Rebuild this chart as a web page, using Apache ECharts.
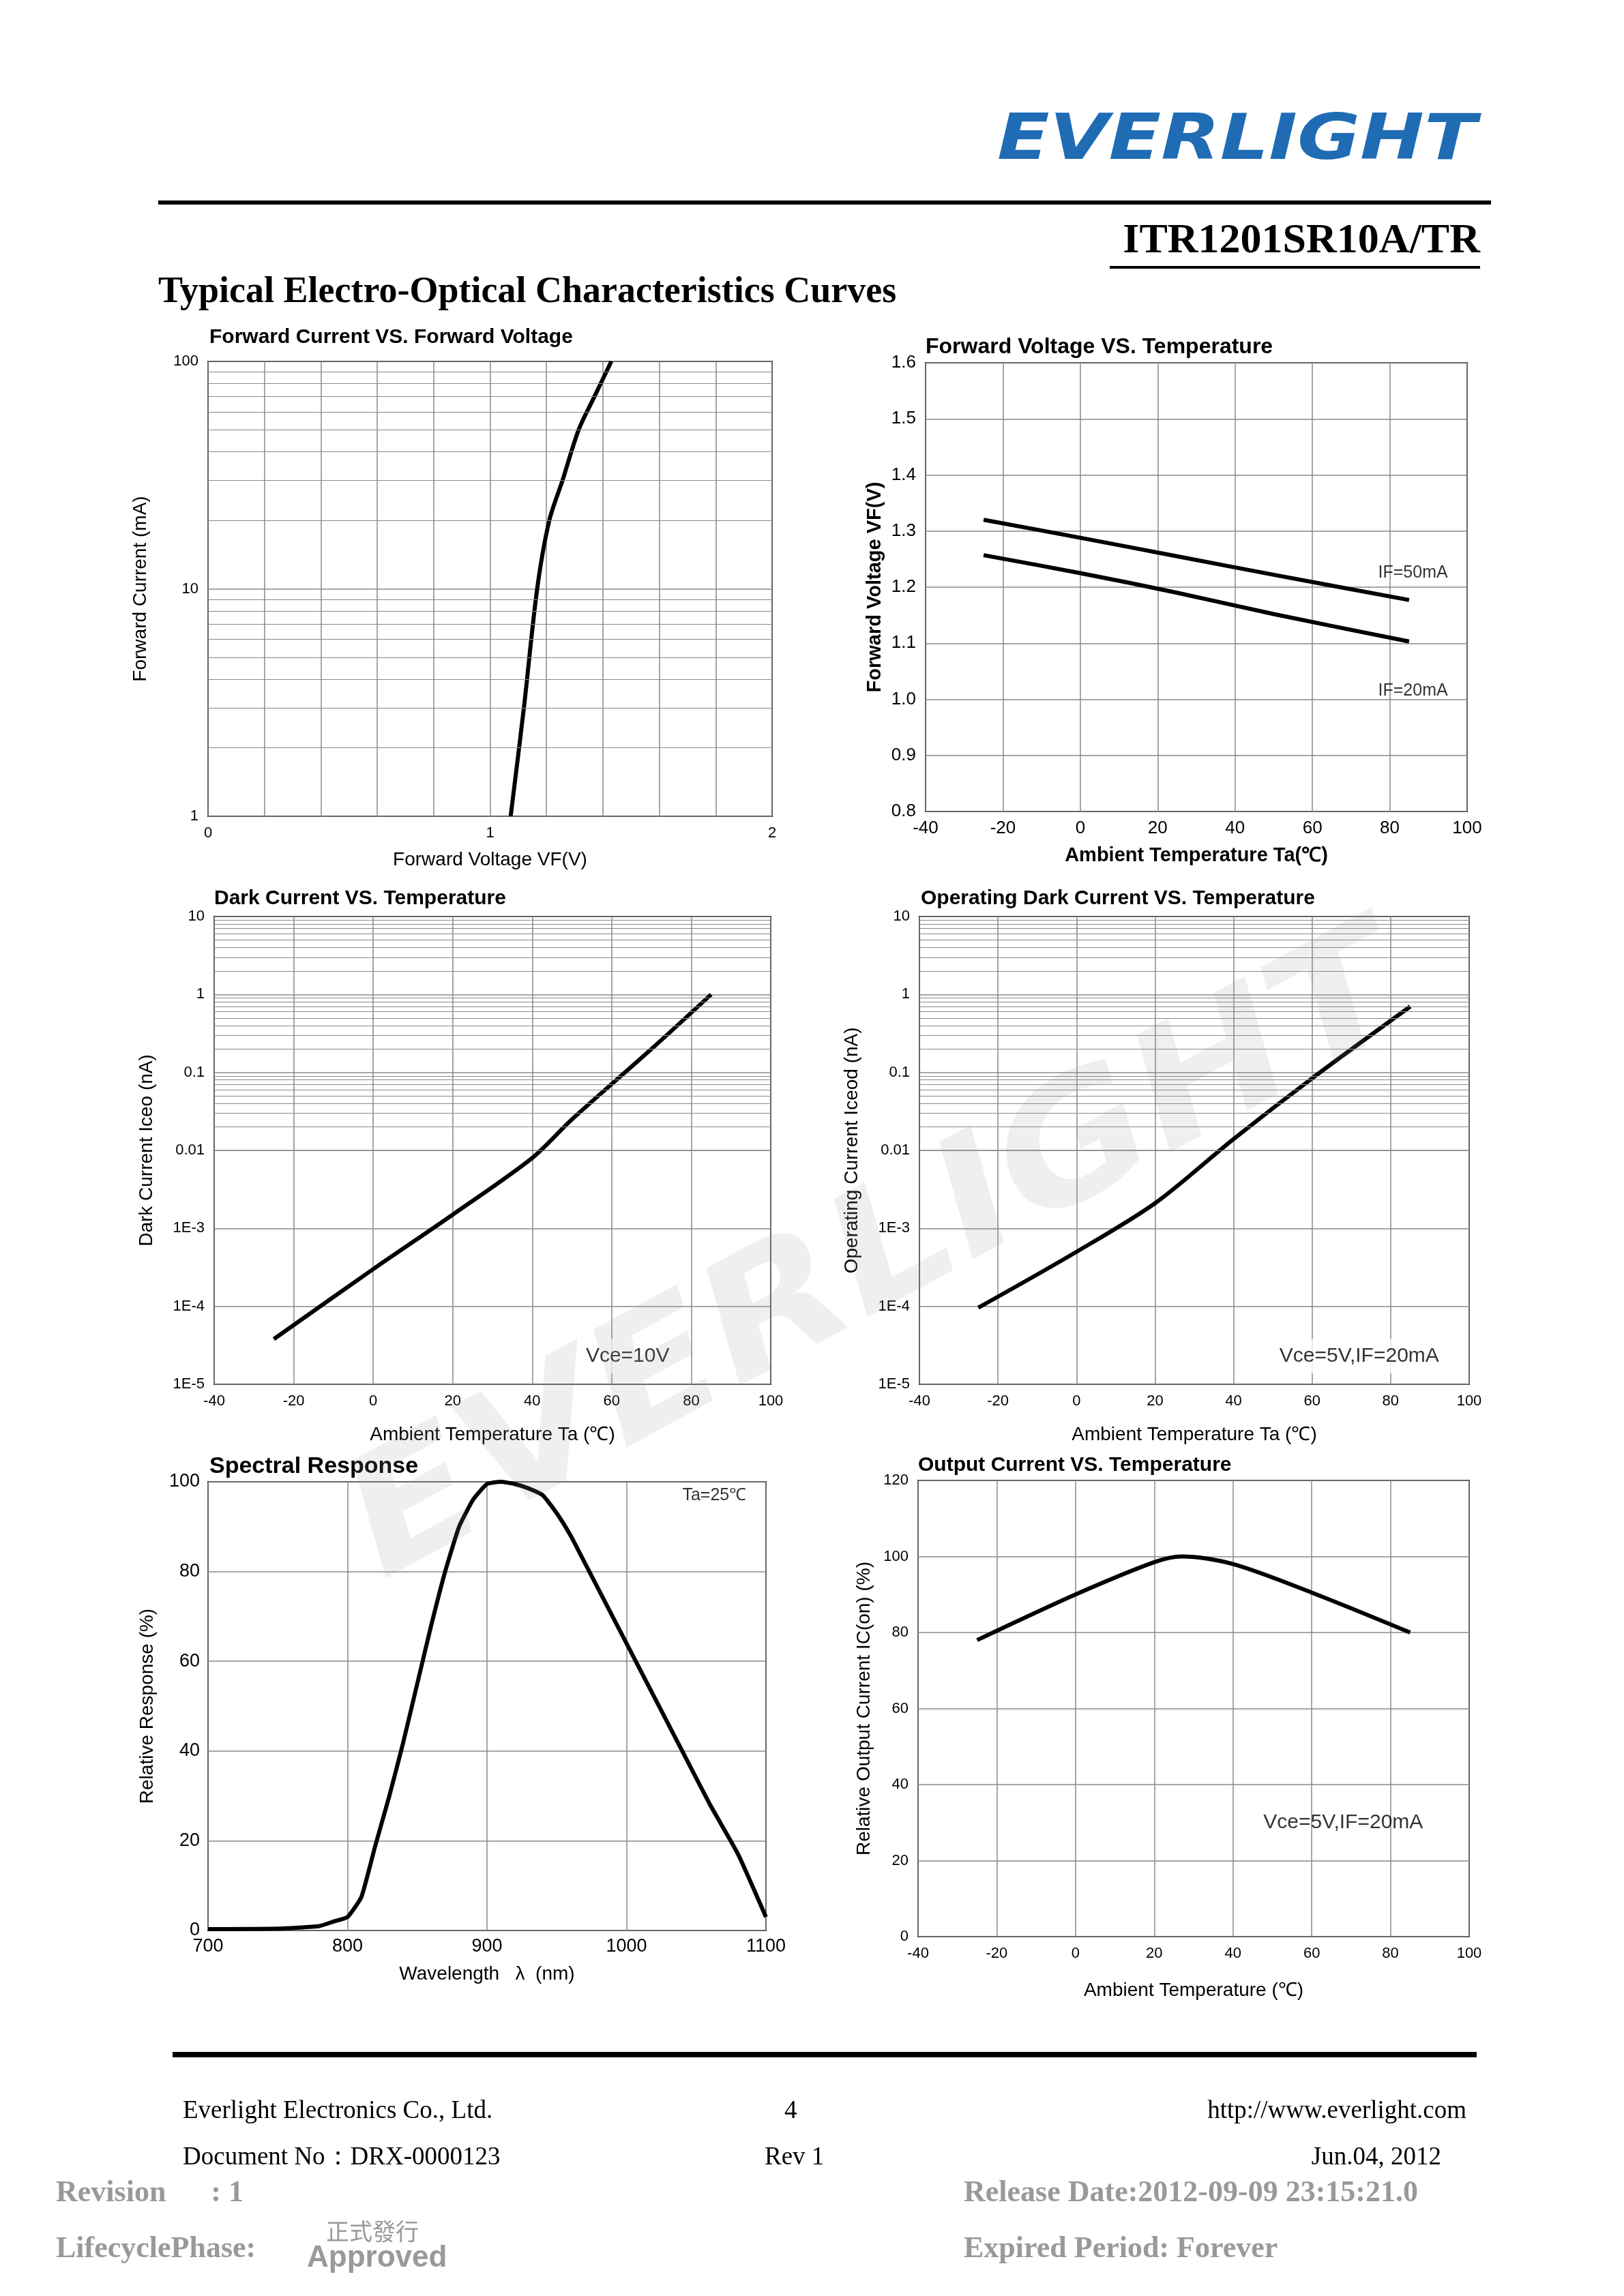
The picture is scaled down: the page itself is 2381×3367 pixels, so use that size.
<!DOCTYPE html>
<html><head><meta charset="utf-8">
<script src="https://cdn.jsdelivr.net/npm/echarts@6/dist/echarts.min.js"></script>
<style>html,body{margin:0;padding:0;background:#fff}#c{width:2381px;height:3367px}</style>
</head><body><div id="c"></div>
<script>
// ---- data ----
const fcFv = [[1.073,1],[1.12,3],[1.167,10],[1.21,20],[1.257,30],[1.314,50],[1.37,70],[1.43,100]];
const fvT50 = [[-25,1.32],[0,1.288],[25,1.255],[50,1.222],[85,1.177]];
const fvT20 = [[-25,1.257],[0,1.225],[25,1.19],[50,1.152],[85,1.103]];
const darkT = [[-25,3.8e-5],[0,3e-4],[20,1.5e-3],[40,8e-3],[50,0.025],[70,0.2],[85,1]];
const opDarkT = [[-25,9.6e-5],[0,5e-4],[20,2.1e-3],[40,0.014],[60,0.084],[85,0.7]];
const spectral = [[700,0.3],[750,0.4],[780,1],[790,2],[800,3],[810,7.5],[820,19],[830,30],[840,42],[850,55],[860,68],[870,80],[880,90],[890,96],[900,99.5],[910,100],[920,99.5],[930,98.5],[940,97],[950,93],[960,88],[970,82],[980,76],[1000,64],[1020,52],[1040,40],[1060,28],[1080,17],[1100,3]];
const outT = [[-25,78],[0,90],[20,98.5],[27,100],[40,98],[60,90.5],[85,80]];
const logLabels = {10:'10',1:'1',0.1:'0.1',0.01:'0.01',0.001:'1E-3',0.0001:'1E-4',0.00001:'1E-5'};

const F='Liberation Sans, Arial, sans-serif';
function minorLines(lo,hi){const a=[];for(let d=lo;d<hi;d++){for(let m=2;m<=9;m++)a.push({yAxis:m*Math.pow(10,d)});}return a;}

const grids=[
 {left:305,top:530,width:827,height:667},
 {left:1357,top:532,width:794,height:658},
 {left:314,top:1344,width:816,height:686},
 {left:1348,top:1344,width:806,height:686},
 {left:305,top:2173,width:818,height:658},
 {left:1346,top:2171,width:808,height:669}
].map(g=>Object.assign({show:true,borderColor:'#000',borderWidth:2,backgroundColor:'transparent'},g));

const gl={show:true,lineStyle:{color:'#888',width:1.5}};
const axl={show:false};
const lab={color:'#000',fontFamily:F,fontSize:22};
function xa(i,o){return Object.assign({gridIndex:i,type:'value',axisLine:axl,axisTick:{show:false},splitLine:gl,axisLabel:Object.assign({},lab,{margin:14}),nameLocation:'middle',nameTextStyle:{color:'#000',fontFamily:F,fontSize:28}},o);}
function ya(i,o){return Object.assign({gridIndex:i,axisLine:axl,axisTick:{show:false},splitLine:gl,axisLabel:Object.assign({},lab,{margin:14}),nameLocation:'middle',nameTextStyle:{color:'#000',fontFamily:F,fontSize:28}},o);}

const xAxis=[
 xa(0,{min:0,max:2,interval:0.2,name:'Forward Voltage VF(V)',nameGap:50,axisLabel:Object.assign({},lab,{margin:14,formatter:v=>Math.abs(v-Math.round(v))<1e-6?String(Math.round(v)):''})}),
 xa(1,{min:-40,max:100,interval:20,name:'Ambient Temperature Ta(℃)',nameGap:50,axisLabel:Object.assign({},lab,{fontSize:26,margin:12}),nameTextStyle:{color:'#000',fontFamily:F,fontSize:29,fontWeight:'bold'}}),
 xa(2,{min:-40,max:100,interval:20,name:'Ambient Temperature Ta (℃)',nameGap:60}),
 xa(3,{min:-40,max:100,interval:20,name:'Ambient Temperature Ta (℃)',nameGap:60}),
 xa(4,{min:700,max:1100,interval:100,name:'Wavelength   λ  (nm)',nameGap:50,axisLabel:Object.assign({},lab,{fontSize:27,margin:10,formatter:v=>String(v)})}),
 xa(5,{min:-40,max:100,interval:20,name:'Ambient Temperature (℃)',nameGap:65})
];
const yAxis=[
 ya(0,{type:'log',min:1,max:100,name:'Forward Current (mA)',nameGap:85}),
 ya(1,{type:'value',min:0.8,max:1.6,interval:0.1,name:'Forward Voltage VF(V)',nameGap:60,axisLabel:Object.assign({},lab,{fontSize:26,margin:14,formatter:v=>v.toFixed(1)}),nameTextStyle:{color:'#000',fontFamily:F,fontSize:29,fontWeight:'bold'}}),
 ya(2,{type:'log',min:1e-5,max:10,name:'Dark Current Iceo (nA)',nameGap:85,axisLabel:Object.assign({},lab,{margin:14,formatter:v=>logLabels[+v.toPrecision(3)]||''})}),
 ya(3,{type:'log',min:1e-5,max:10,name:'Operating Current Iceod (nA)',nameGap:85,axisLabel:Object.assign({},lab,{margin:14,formatter:v=>logLabels[+v.toPrecision(3)]||''})}),
 ya(4,{type:'value',min:0,max:100,interval:20,name:'Relative Response (%)',nameGap:75,axisLabel:Object.assign({},lab,{fontSize:27,margin:12})}),
 ya(5,{type:'value',min:0,max:120,interval:20,name:'Relative Output Current IC(on) (%)',nameGap:65})
];
function line(i,data,ml,sm){const s={type:'line',xAxisIndex:i,yAxisIndex:i,data:data,smooth:sm==null?0.3:sm,showSymbol:false,lineStyle:{color:'#000',width:6},silent:true};
 if(ml)s.markLine={silent:true,symbol:'none',label:{show:false},lineStyle:{color:'#888',width:1.2,type:'solid'},data:ml};return s;}
function note(i,x,y,t,fs,box){return {type:'scatter',xAxisIndex:i,yAxisIndex:i,data:[[x,y]],symbolSize:0,silent:true,z:5,label:{show:true,position:'inside',formatter:t,color:'#000',fontFamily:F,fontSize:fs,backgroundColor:box?'#fff':'transparent',padding:box?[10,16]:0}};}
const series=[
 line(0,fcFv,minorLines(0,2)),
 line(1,fvT50),line(1,fvT20),
 line(2,darkT,minorLines(-5,1)),
 line(3,opDarkT,minorLines(-5,1)),
 line(4,spectral,null,0.15),
 line(5,outT),
 note(1,86,1.225,'IF=50mA',25),note(1,86,1.015,'IF=20mA',25),
 note(2,64,2.3e-5,'Vce=10V',30,true),
 note(3,72,2.3e-5,'Vce=5V,IF=20mA',30,true),
 note(4,1063,97,'Ta=25℃',25),
 note(5,68,30,'Vce=5V,IF=20mA',30)
];
const serif='Liberation Serif, Times New Roman, serif';
function t(x,y,txt,st){return {type:'text',left:x,top:y,style:Object.assign({text:txt,fill:'#000',font:'37px '+serif},st)};}
const graphic=[
 {type:'text',x:1462,y:163,scaleX:1.22,style:{text:'EVERLIGHT',fill:'#1f6cb5',font:'italic bold 92px DejaVu Sans, sans-serif'}},
 {type:'rect',shape:{x:232,y:294,width:1954,height:6},style:{fill:'#000'}},
 {type:'text',right:211,top:323,style:{text:'ITR1201SR10A/TR',fill:'#000',font:'bold 62px '+serif}},
 {type:'rect',shape:{x:1627,y:390,width:543,height:4},style:{fill:'#000'}},
 t(232,402,'Typical Electro-Optical Characteristics Curves',{font:'bold 54px '+serif}),
 t(307,480,'Forward Current VS. Forward Voltage',{font:'bold 30px '+F}),
 t(1357,493,'Forward Voltage VS. Temperature',{font:'bold 32px '+F}),
 t(314,1303,'Dark Current VS. Temperature',{font:'bold 30px '+F}),
 t(1350,1303,'Operating Dark Current VS. Temperature',{font:'bold 30px '+F}),
 t(307,2134,'Spectral Response',{font:'bold 34px '+F}),
 t(1346,2134,'Output Current VS. Temperature',{font:'bold 30px '+F}),
 {type:'rect',shape:{x:253,y:3009,width:1912,height:8},style:{fill:'#000'}},
 t(268,3078,'Everlight Electronics Co., Ltd.'),
 t(1150,3078,'4'),
 {type:'text',right:231,top:3078,style:{text:'http://www.everlight.com',fill:'#000',font:'37px '+serif}},
 t(268,3146,'Document No：DRX-0000123'),
 t(1121,3146,'Rev 1'),
 {type:'text',right:268,top:3146,style:{text:'Jun.04, 2012',fill:'#000',font:'37px '+serif}},
 t(82,3195,'Revision      : 1',{fill:'#999',font:'bold 44px '+serif}),
 t(1413,3195,'Release Date:2012-09-09 23:15:21.0',{fill:'#999',font:'bold 44px '+serif}),
 t(82,3277,'LifecyclePhase:',{fill:'#999',font:'bold 44px '+serif}),
 t(1413,3277,'Expired Period: Forever',{fill:'#999',font:'bold 44px '+serif}),
 t(478,3255,'正式發行',{fill:'#999',font:'34px Noto Sans CJK TC'}),
 t(450,3290,'Approved',{fill:'#999',font:'bold 44px '+F}),
 {type:'text',x:1290,y:1850,rotation:28.5*Math.PI/180,scaleX:1.15,style:{text:'EVERLIGHT',fill:'rgba(150,150,150,0.15)',font:'italic bold 240px DejaVu Sans, sans-serif',textAlign:'center',textVerticalAlign:'middle'},z:100}
];
const chart=echarts.init(document.getElementById('c'));
chart.setOption({animation:false,backgroundColor:'#fff',grid:grids,xAxis:xAxis,yAxis:yAxis,series:series,graphic:graphic});
</script></body></html>
